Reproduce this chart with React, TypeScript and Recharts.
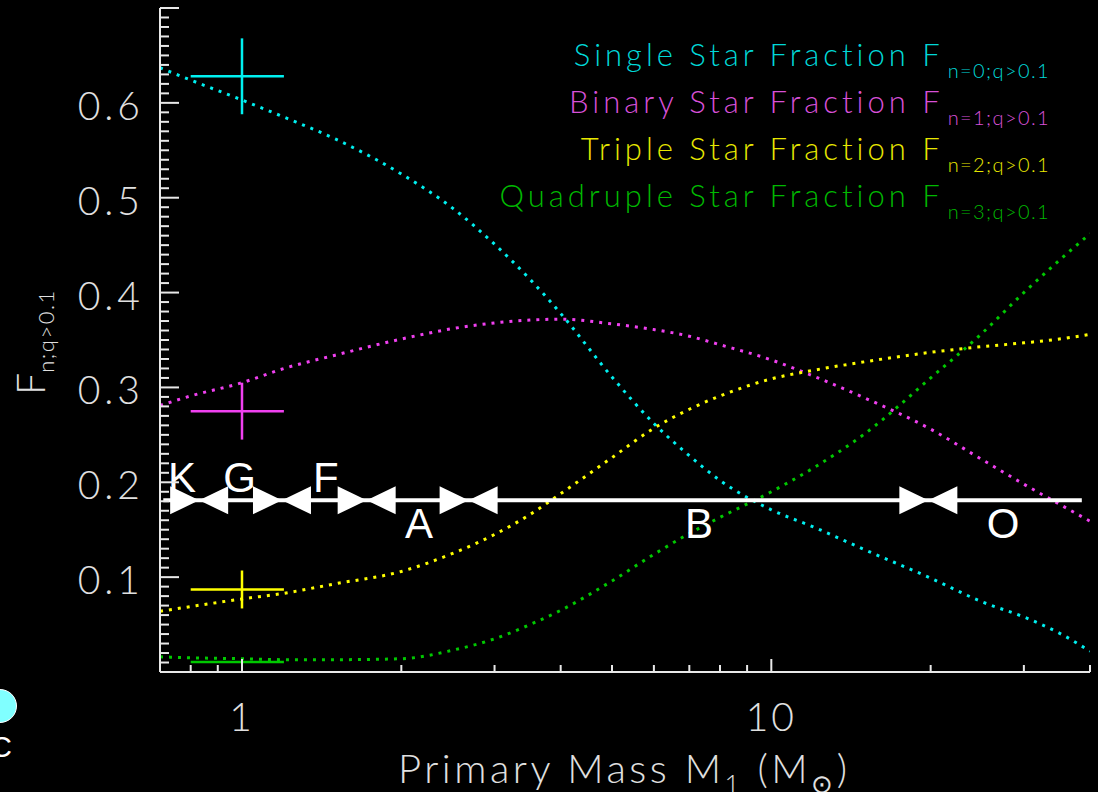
import {
  ComposedChart,
  Line,
  Scatter,
  ErrorBar,
  XAxis,
  YAxis,
  ReferenceLine,
  ReferenceDot,
  Legend,
} from 'recharts';

// model curves, sampled in primary mass (solar masses)
const MASS = [0.7, 0.8, 1, 1.2, 1.5, 2, 2.5, 3, 3.5, 4, 5, 6, 7, 8, 10, 12, 15, 20, 25, 30, 35, 40];
const SINGLE = [0.637, 0.624, 0.603, 0.585, 0.562, 0.525, 0.489, 0.451, 0.414, 0.378, 0.311, 0.262, 0.228, 0.202, 0.171, 0.153, 0.129, 0.099, 0.074, 0.058, 0.041, 0.022];
const BINARY = [0.281, 0.291, 0.305, 0.32, 0.334, 0.351, 0.362, 0.368, 0.371, 0.372, 0.367, 0.361, 0.354, 0.345, 0.329, 0.312, 0.289, 0.256, 0.224, 0.198, 0.177, 0.159];
const TRIPLE = [0.064, 0.069, 0.077, 0.083, 0.093, 0.106, 0.125, 0.145, 0.166, 0.188, 0.226, 0.257, 0.277, 0.291, 0.309, 0.318, 0.327, 0.337, 0.343, 0.347, 0.351, 0.356];
const QUADRUPLE = [0.016, 0.015, 0.014, 0.013, 0.013, 0.014, 0.023, 0.035, 0.05, 0.065, 0.096, 0.124, 0.146, 0.163, 0.19, 0.215, 0.251, 0.31, 0.357, 0.4, 0.434, 0.462];

// solar-type measurements at M1 = 1 (mass range 0.8-1.2)
const OBS_MASS = 1;
const OBS_MASS_ERR = [0.2, 0.2];
const OBS_FRAC = [0.628, 0.275, 0.087, 0.0105];
const OBS_FRAC_ERR = [0.04, 0.03, 0.02, 0];

const MASS_TICKS = [0.8, 0.9, 1, 2, 3, 4, 5, 6, 7, 8, 9, 10, 20, 30, 40];
const MASS_LABELS = [1, 10];
const FRAC_TICKS = Array.from({ length: 71 }, (_, i) => i / 100);
const FRAC_LABELS = [0.1, 0.2, 0.3, 0.4, 0.5, 0.6];

// spectral type bar
const SPECTRAL_TYPES = ['K', 'G', 'F', 'A', 'B', 'O'];
const SPECTRAL_LABEL_MASS = [0.77, 0.99, 1.44, 2.16, 7.3, 27.4];
const SPECTRAL_EDGES = [0.83, 1.19, 1.72, 2.68, 19.8];
const SPECTRAL_RANGE = [0.71, 38.6];
const SPECTRAL_Y = 0.181;

const SERIES = [
  { key: 'single', name: 'Single Star Fraction F', sub: 'n=0;q>0.1', color: '#00f0f0', text: '#00d8d8' },
  { key: 'binary', name: 'Binary Star Fraction F', sub: 'n=1;q>0.1', color: '#f040f0', text: '#d850d8' },
  { key: 'triple', name: 'Triple Star Fraction F', sub: 'n=2;q>0.1', color: '#ffff00', text: '#e8e800' },
  { key: 'quadruple', name: 'Quadruple Star Fraction F', sub: 'n=3;q>0.1', color: '#00c800', text: '#00b800' },
];

const curveData = MASS.map((mass, i) => ({
  mass,
  single: SINGLE[i],
  binary: BINARY[i],
  triple: TRIPLE[i],
  quadruple: QUADRUPLE[i],
}));

const W = 1098;
const H = 792;
const FONT = 'Lato, "DejaVu Sans", sans-serif';
const AXIS = '#e8e8e8';
const LABEL = '#e0e0e0';

const isMajorFrac = (v: number) => Math.round(v * 100) % 10 === 0;
const hasFracLabel = (v: number) => FRAC_LABELS.some(l => Math.abs(l - v) < 1e-6);

const BottomTick = ({ x, y, payload }: any) => {
  const major = MASS_LABELS.includes(payload.value);
  return (
    <g>
      <line x1={x} x2={x} y1={y} y2={y - (major ? 13 : 7)} stroke={AXIS} strokeWidth={2} />
      {major && (
        <text x={x} y={y + 59} textAnchor="middle" fill={LABEL} fontSize={39} fontWeight={300} letterSpacing={3} fontFamily={FONT}>
          {payload.value}
        </text>
      )}
    </g>
  );
};

const TopTick = ({ x, y, payload }: any) => {
  const major = MASS_LABELS.includes(payload.value);
  return <line x1={x} x2={x} y1={y} y2={y + (major ? 13 : 7)} stroke={AXIS} strokeWidth={2} />;
};

const LeftTick = ({ x, y, payload }: any) => {
  const v = payload.value;
  return (
    <g>
      <line x1={x} x2={x + (isMajorFrac(v) ? 19 : 9)} y1={y} y2={y} stroke={AXIS} strokeWidth={2} />
      {hasFracLabel(v) && (
        <text x={x - 16} y={y + 17} textAnchor="end" fill={LABEL} fontSize={39} fontWeight={300} letterSpacing={4} fontFamily={FONT}>
          {v.toFixed(1)}
        </text>
      )}
    </g>
  );
};

const RightTick = ({ x, y, payload }: any) => (
  <line x1={x} x2={x - (isMajorFrac(payload.value) ? 19 : 9)} y1={y} y2={y} stroke={AXIS} strokeWidth={2} />
);

const YTitle = () => (
  <text transform="translate(45, 342) rotate(-90)" textAnchor="middle" fill={LABEL} fontFamily={FONT} fontWeight={300}>
    <tspan fontSize={39}>F</tspan>
    <tspan fontSize={22} dy={9} letterSpacing={1.5}>n;q&gt;0.1</tspan>
  </text>
);

const XTitle = () => (
  <text x={398} y={783} fill={LABEL} fontFamily={FONT} fontWeight={300} fontSize={40} letterSpacing={3.5}>
    <tspan>Primary Mass M</tspan>
    <tspan fontSize={26} dy={10}>1</tspan>
    <tspan dy={-10}> (M</tspan>
    <tspan fontSize={26} dy={10}>⊙</tspan>
    <tspan dy={-10}>)</tspan>
  </text>
);

// double arrowhead marking a boundary between spectral types
const Bowtie = ({ cx, cy }: any) => (
  <path
    d={`M${cx},${cy} L${cx - 29},${cy - 14} L${cx - 29},${cy + 14} Z M${cx},${cy} L${cx + 29},${cy - 14} L${cx + 29},${cy + 14} Z`}
    fill="#ffffff"
  />
);

const spectralLabel = (name: string, above: boolean) => ({ cx, cy }: any) => (
  <text
    x={cx}
    y={above ? cy - 8 : cy + 38}
    textAnchor="middle"
    fill="#ffffff"
    fontSize={42}
    fontFamily='"Liberation Sans", Arial, sans-serif'
  >
    {name}
  </text>
);

const LegendBlock = () => (
  <div style={{ textAlign: 'right', fontFamily: FONT, fontWeight: 300 }}>
    {SERIES.map(s => (
      <div key={s.key} style={{ height: 47, lineHeight: '47px', whiteSpace: 'nowrap', color: s.text }}>
        <span style={{ fontSize: 31, letterSpacing: 4 }}>{s.name}</span>
        <span style={{ fontSize: 20, letterSpacing: 1.4, position: 'relative', top: 12, marginLeft: 4 }}>{s.sub}</span>
      </div>
    ))}
  </div>
);

export default function App() {
  return (
    <div style={{ position: 'absolute', left: 0, top: 0, width: W, height: H, background: '#000', overflow: 'hidden' }}>
      <ComposedChart width={W} height={H} data={curveData} margin={{ top: 8, right: 8, bottom: 0, left: 0 }}>
        <XAxis
          dataKey="mass"
          type="number"
          scale="log"
          domain={[0.7, 40]}
          allowDataOverflow
          ticks={MASS_TICKS}
          interval={0}
          tickSize={0}
          tickMargin={0}
          tickLine={false}
          tick={<BottomTick />}
          axisLine={{ stroke: AXIS, strokeWidth: 2 }}
          height={120}
          label={<XTitle />}
        />
        <XAxis
          xAxisId="top"
          orientation="top"
          dataKey="mass"
          type="number"
          scale="log"
          domain={[0.7, 40]}
          allowDataOverflow
          ticks={MASS_TICKS}
          interval={0}
          tickSize={0}
          tickMargin={0}
          tickLine={false}
          tick={<TopTick />}
          axisLine={{ stroke: AXIS, strokeWidth: 2 }}
          height={0}
        />
        <YAxis
          type="number"
          domain={[0, 0.7]}
          allowDataOverflow
          ticks={FRAC_TICKS}
          interval={0}
          tickSize={0}
          tickMargin={0}
          tickLine={false}
          tick={<LeftTick />}
          axisLine={{ stroke: AXIS, strokeWidth: 2 }}
          width={160}
          label={<YTitle />}
        />
        <YAxis
          yAxisId="right"
          orientation="right"
          type="number"
          domain={[0, 0.7]}
          allowDataOverflow
          ticks={FRAC_TICKS}
          interval={0}
          tickSize={0}
          tickMargin={0}
          tickLine={false}
          tick={<RightTick />}
          axisLine={{ stroke: AXIS, strokeWidth: 2 }}
          width={0}
        />

        {SERIES.map(s => (
          <Line
            key={s.key}
            dataKey={s.key}
            name={s.name}
            type="monotone"
            stroke={s.color}
            strokeWidth={3}
            strokeDasharray="3 6"
            dot={false}
            activeDot={false}
            isAnimationActive={false}
          />
        ))}

        {SERIES.map((s, i) => (
          <Scatter
            key={`obs-${s.key}`}
            data={[{ mass: OBS_MASS, frac: OBS_FRAC[i], massErr: OBS_MASS_ERR, fracErr: OBS_FRAC_ERR[i] }]}
            dataKey="frac"
            legendType="none"
            shape={() => <g />}
            isAnimationActive={false}
          >
            <ErrorBar dataKey="massErr" direction="x" width={0} stroke={s.color} strokeWidth={2.5} isAnimationActive={false} />
            <ErrorBar dataKey="fracErr" direction="y" width={0} stroke={s.color} strokeWidth={2.5} isAnimationActive={false} />
          </Scatter>
        ))}

        <ReferenceLine
          segment={[
            { x: SPECTRAL_RANGE[0], y: SPECTRAL_Y },
            { x: SPECTRAL_RANGE[1], y: SPECTRAL_Y },
          ]}
          stroke="#ffffff"
          strokeWidth={4}
          ifOverflow="visible"
        />
        {SPECTRAL_EDGES.map(m => (
          <ReferenceDot key={`edge-${m}`} x={m} y={SPECTRAL_Y} ifOverflow="visible" shape={<Bowtie />} />
        ))}
        {SPECTRAL_TYPES.map((t, i) => (
          <ReferenceDot
            key={`type-${t}`}
            x={SPECTRAL_LABEL_MASS[i]}
            y={SPECTRAL_Y}
            ifOverflow="visible"
            shape={spectralLabel(t, i < 3)}
          />
        ))}

        <Legend
          layout="vertical"
          align="center"
          verticalAlign="middle"
          content={() => <LegendBlock />}
          wrapperStyle={{ position: 'absolute', top: 31, left: 450, width: 600, height: 200 }}
        />
      </ComposedChart>

      <svg width={W} height={H} style={{ position: 'absolute', left: 0, top: 0, pointerEvents: 'none' }}>
        <circle cx={0} cy={706} r={16.5} fill="#80ffff" stroke="#ffffff" strokeWidth={1} />
        <text x={1} y={757} textAnchor="middle" fill="#ffffff" fontSize={30} fontFamily='"Liberation Sans", Arial, sans-serif'>
          C
        </text>
      </svg>
    </div>
  );
}
